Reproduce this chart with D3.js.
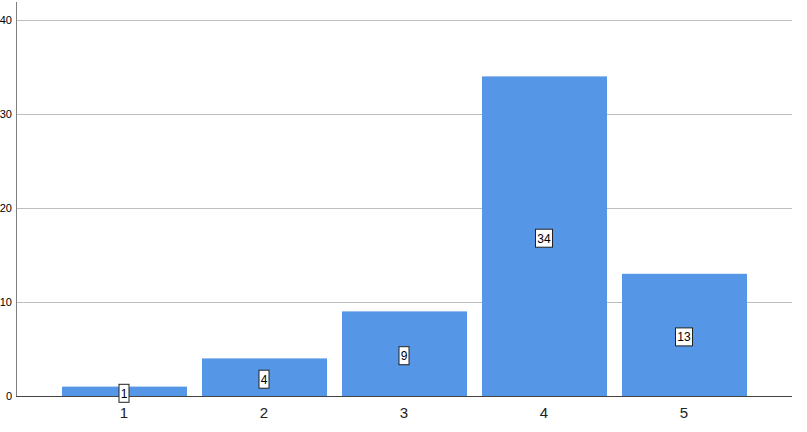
<!DOCTYPE html>
<html>
<head>
<meta charset="utf-8">
<script src="https://cdn.jsdelivr.net/npm/d3@7"></script>
<style>
  body { margin: 0; background: #fff; }
  text { font-family: Arial, "Liberation Sans", sans-serif; }
</style>
</head>
<body>
<div id="chart"></div>
<script>
(function () {

  const categories = ['1', '2', '3', '4', '5']
  const counts = [1, 4, 9, 34, 13]
  const yTicks = [0, 10, 20, 30, 40]

  const width = 807
  const height = 432

  const svg = d3.select("#chart").append("svg")
      .attr("width", width)
      .attr("height", height)

  const xPositionScale = d3.scaleBand()
    .domain(categories)
    .range([54, 754])
    .paddingInner(0.1)
    .paddingOuter(0.05)

  const yPositionScale = d3.scaleLinear()
    .domain([0, 40])
    .range([396, 20])

  // gridlines
  svg.selectAll('.grid')
    .data(yTicks.filter(d => d > 0))
    .join('line')
    .attr('class', 'grid')
    .attr('x1', 16)
    .attr('x2', 792)
    .attr('y1', d => yPositionScale(d) + 0.5)
    .attr('y2', d => yPositionScale(d) + 0.5)
    .attr('stroke', '#bdbdbd')
    .attr('stroke-width', 1)

  // bars
  svg.selectAll('rect.bar')
    .data(counts)
    .join('rect')
    .attr('class', 'bar')
    .attr('x', (d, i) => xPositionScale(categories[i]) + 1)
    .attr('width', xPositionScale.bandwidth() - 1)
    .attr('y', d => yPositionScale(d))
    .attr('height', d => yPositionScale(0) - yPositionScale(d))
    .attr('fill', '#5596e6')

  // axes lines
  svg.append('line')
    .attr('x1', 16.5).attr('x2', 16.5)
    .attr('y1', 2).attr('y2', 397)
    .attr('stroke', '#7f7f7f')

  svg.append('line')
    .attr('x1', 16).attr('x2', 792)
    .attr('y1', 396.5).attr('y2', 396.5)
    .attr('stroke', '#444')

  // y tick labels
  svg.selectAll('.ytick')
    .data(yTicks)
    .join('text')
    .attr('class', 'ytick')
    .attr('x', 12)
    .attr('y', d => yPositionScale(d))
    .attr('dy', '0.35em')
    .attr('text-anchor', 'end')
    .attr('font-size', 11)
    .attr('fill', '#000')
    .text(d => d)

  // x tick labels
  svg.selectAll('.xtick')
    .data(categories)
    .join('text')
    .attr('class', 'xtick')
    .attr('x', d => xPositionScale(d) + xPositionScale.bandwidth() / 2)
    .attr('y', 418)
    .attr('text-anchor', 'middle')
    .attr('font-size', 15)
    .attr('fill', '#222')
    .text(d => d)

  // value labels in boxes
  const labels = svg.selectAll('.vlabel')
    .data(counts)
    .join('g')
    .attr('class', 'vlabel')
    .attr('transform', (d, i) => 'translate(' + (xPositionScale(categories[i]) + xPositionScale.bandwidth() / 2) + ',' + (yPositionScale(d / 2) + 2) + ')')

  labels.append('rect')
    .attr('x', d => String(d).length > 1 ? -8.5 : -5)
    .attr('y', -9)
    .attr('width', d => String(d).length > 1 ? 17 : 10)
    .attr('height', 18)
    .attr('fill', '#fff')
    .attr('stroke', '#222')
    .attr('stroke-width', 1)

  labels.append('text')
    .attr('text-anchor', 'middle')
    .attr('dy', '0.36em')
    .attr('font-size', 12)
    .attr('fill', '#000')
    .text(d => d)

})();
</script>
</body>
</html>
